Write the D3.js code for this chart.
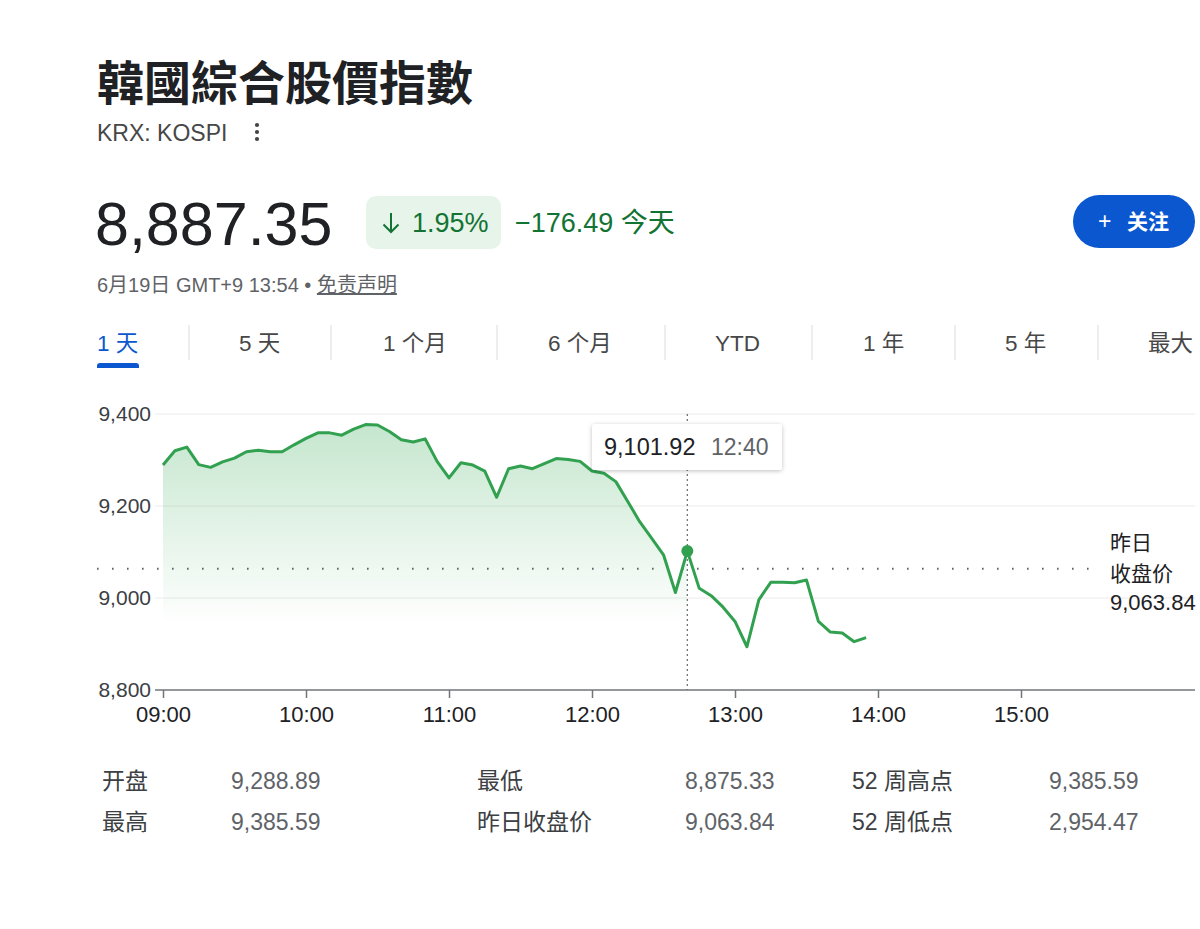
<!DOCTYPE html>
<html><head><meta charset="utf-8">
<script src="https://cdn.jsdelivr.net/npm/d3@7"></script>
<style>
html,body{margin:0;padding:0;background:#fff;}
svg text{font-family:"Liberation Sans","Noto Sans CJK SC",Arial,sans-serif;}
</style></head>
<body><svg id="c" width="1200" height="929"></svg>
<script>
// ---- data ----
const times = ["09:00","09:05","09:10","09:15","09:20","09:25","09:30","09:35","09:40","09:45",
 "09:50","09:55","10:00","10:05","10:10","10:15","10:20","10:25","10:30","10:35",
 "10:40","10:45","10:50","10:55","11:00","11:05","11:10","11:15","11:20","11:25",
 "11:30","11:35","11:40","11:45","11:50","11:55","12:00","12:05","12:10","12:15",
 "12:20","12:25","12:30","12:35","12:40","12:45","12:50","12:55","13:00","13:05",
 "13:10","13:15","13:20","13:25","13:30","13:35","13:40","13:45","13:50","13:55"];
const values = [9289,9320,9328,9290,9284,9296,9304,9318,9321,9318,
 9318,9333,9347,9359,9359,9354,9367,9377,9376,9362,
 9344,9339,9346,9297,9261,9294,9289,9276,9219,9281,
 9287,9281,9292,9303,9301,9297,9276,9271,9253,9210,
 9166,9130,9094,9012,9101.92,9021,9005,8980,8949,8894,
 8996,9034,9034,9033,9039,8949,8926,8924,8905,8914];
const yTicks = [8800,9000,9200,9400];
const xTicks = ["09:00","10:00","11:00","12:00","13:00","14:00","15:00"];
const prevClose = 9063.84;
const hoverTime = "12:40";
const hoverValue = 9101.92;
const tabs = ["1 天","5 天","1 个月","6 个月","YTD","1 年","5 年","最大"];
const statLabels = [["开盘","最高"],["最低","昨日收盘价"],["52 周高点","52 周低点"]];
const statValues = [["9,288.89","9,385.59"],["8,875.33","9,063.84"],["9,385.59","2,954.47"]];

// ---- layout ----
const svg = d3.select("#c");
svg.append("rect").attr("width",1200).attr("height",929).attr("fill","#fff");
const parse = d3.timeParse("%H:%M");
const x = d3.scaleTime().domain([parse("09:00"), parse("15:00")]).range([163, 1021]);
const y = d3.scaleLinear().domain([8800, 9400]).range([690, 414]);
const fmt = d3.format(",.2f");

const defs = svg.append("defs");
const g = defs.append("linearGradient").attr("id","gfill").attr("gradientUnits","userSpaceOnUse")
  .attr("x1",0).attr("x2",0).attr("y1",414).attr("y2",625);
g.append("stop").attr("offset","0").attr("stop-color","#34a853").attr("stop-opacity",0.30);
g.append("stop").attr("offset","1").attr("stop-color","#34a853").attr("stop-opacity",0);
const sh = defs.append("filter").attr("id","shadow").attr("x","-20%").attr("y","-30%").attr("width","140%").attr("height","170%");
sh.append("feDropShadow").attr("dx",0).attr("dy",1).attr("stdDeviation",2).attr("flood-color","#000").attr("flood-opacity",0.25);
defs.append("clipPath").attr("id","hoverclip").append("rect")
  .attr("x",0).attr("y",0).attr("width",x(parse(hoverTime))).attr("height",929);

// header
svg.append("text").attr("x",97).attr("y",100).attr("font-size",47).attr("font-weight",700)
  .attr("fill","#202124").style("font-family","'Noto Sans CJK TC',sans-serif").text("韓國綜合股價指數");
svg.append("text").attr("x",97).attr("y",141).attr("font-size",23).attr("fill","#474747").text("KRX: KOSPI");
[125,132,139].forEach(cy=>svg.append("circle").attr("cx",257).attr("cy",cy).attr("r",2.1).attr("fill","#444"));

svg.append("text").attr("x",95).attr("y",245).attr("font-size",61).attr("fill","#202124").text("8,887.35");
svg.append("rect").attr("x",366).attr("y",196).attr("width",135).attr("height",53).attr("rx",10).attr("fill","#e6f4ea");
// down arrow
svg.append("path").attr("d","M391,213 L391,232 M383.5,224.5 L391,232 L398.5,224.5")
  .attr("fill","none").attr("stroke","#137333").attr("stroke-width",2);
svg.append("text").attr("x",412).attr("y",232).attr("font-size",27).attr("fill","#137333").text("1.95%");
svg.append("text").attr("x",515).attr("y",232).attr("font-size",27).attr("fill","#137333").text("−176.49 今天");

svg.append("rect").attr("x",1073).attr("y",195).attr("width",122).attr("height",53).attr("rx",26.5).attr("fill","#0b57d0");
svg.append("text").attr("x",1098).attr("y",229).attr("font-size",23).attr("fill","#fff").text("+");
svg.append("text").attr("x",1127).attr("y",229).attr("font-size",21).attr("font-weight",700).attr("fill","#fff").text("关注");

const dl = svg.append("text").attr("x",97).attr("y",292).attr("font-size",20).attr("fill","#5f6368");
dl.append("tspan").text("6月19日 GMT+9 13:54 • ");
dl.append("tspan").attr("text-decoration","underline").text("免责声明");

// tabs
const tabX = [97,239,383,548,715,863,1005,1148];
const sepX = [189,331,497,665,812,955,1098];
tabs.forEach((t,i)=>svg.append("text").attr("x",tabX[i]).attr("y",351).attr("font-size",22.5)
  .attr("fill", i===0 ? "#0b57d0" : "#474747").text(t));
sepX.forEach(sx=>svg.append("line").attr("x1",sx).attr("x2",sx).attr("y1",325).attr("y2",360)
  .attr("stroke","#dadce0").attr("stroke-width",1));
svg.append("path").attr("d","M97,368 L97,366 Q97,363 100,363 L136,363 Q139,363 139,366 L139,368 Z").attr("fill","#0b57d0");

// grid
yTicks.filter(v=>v>8800).forEach(v=>svg.append("line").attr("x1",155).attr("x2",1195)
  .attr("y1",y(v)).attr("y2",y(v)).attr("stroke","#ebebeb").attr("stroke-width",1));
yTicks.forEach(v=>svg.append("text").attr("x",151).attr("y",y(v)+7).attr("text-anchor","end")
  .attr("font-size",21).attr("fill","#3c4043").text(d3.format(",")(v)));

// x axis
svg.append("line").attr("x1",155).attr("x2",1195).attr("y1",690).attr("y2",690).attr("stroke","#70757a").attr("stroke-width",1.5);
const xa = svg.append("g").attr("transform","translate(0,690)")
  .call(d3.axisBottom(x).tickValues(xTicks.map(parse)).tickFormat(d3.timeFormat("%H:%M")).tickSize(8).tickPadding(8));
xa.select(".domain").remove();
xa.selectAll(".tick line").attr("stroke","#70757a").attr("stroke-width",1.5);
xa.selectAll(".tick text").attr("font-size",22).attr("fill","#202124")
  .style("font-family","'Liberation Sans',Arial,sans-serif");

// area + line
const pts = times.map((t,i)=>({t:parse(t), v:values[i]}));
svg.append("path").datum(pts).attr("clip-path","url(#hoverclip)")
  .attr("d", d3.area().x(d=>x(d.t)).y0(690).y1(d=>y(d.v))).attr("fill","url(#gfill)");

// previous close dotted line
svg.append("line").attr("x1",97).attr("x2",1100).attr("y1",y(prevClose)).attr("y2",y(prevClose))
  .attr("stroke","#5f6368").attr("stroke-width",2).attr("stroke-dasharray","1.6 13.4");

svg.append("path").datum(pts).attr("d", d3.line().x(d=>x(d.t)).y(d=>y(d.v)))
  .attr("fill","none").attr("stroke","#31a150").attr("stroke-width",3).attr("stroke-linejoin","round");

// hover
const hx = x(parse(hoverTime));
svg.append("line").attr("x1",hx).attr("x2",hx).attr("y1",y(9400)).attr("y2",690)
  .attr("stroke","#70757a").attr("stroke-width",1.3).attr("stroke-dasharray","2 3");
svg.append("circle").attr("cx",hx).attr("cy",y(hoverValue)).attr("r",6).attr("fill","#31a150");
svg.append("rect").attr("x",592).attr("y",424).attr("width",190).attr("height",46).attr("rx",3)
  .attr("fill","#fff").attr("filter","url(#shadow)");
svg.append("text").attr("x",604).attr("y",455).attr("font-size",23.5).attr("fill","#202124").text(fmt(hoverValue));
svg.append("text").attr("x",711).attr("y",455).attr("font-size",23).attr("fill","#5f6368").text(hoverTime);

// prev close label
svg.append("text").attr("x",1110).attr("y",550).attr("font-size",21).attr("fill","#202124").text("昨日");
svg.append("text").attr("x",1110).attr("y",581).attr("font-size",21).attr("fill","#202124").text("收盘价");
svg.append("text").attr("x",1110).attr("y",610).attr("font-size",22).attr("fill","#202124").text(fmt(prevClose));

// stats
const labX = [102,477,852], valX = [231,685,1049], rowY = [789,830];
statLabels.forEach((col,c)=>col.forEach((l,r)=>{
  svg.append("text").attr("x",labX[c]).attr("y",rowY[r]).attr("font-size",23).attr("fill","#3c4043").text(l);
  svg.append("text").attr("x",valX[c]).attr("y",rowY[r]).attr("font-size",23).attr("fill","#5f6368").text(statValues[c][r]);
}));
</script></body></html>
